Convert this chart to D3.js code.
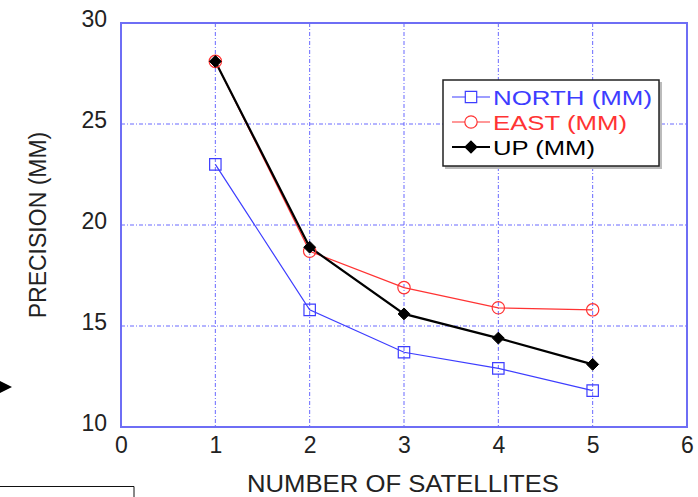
<!DOCTYPE html>
<html>
<head>
<meta charset="utf-8">
<script src="https://cdn.jsdelivr.net/npm/d3@7"></script>
<style>
  html, body { margin: 0; padding: 0; background: #fff; }
  svg { display: block; font-family: "Liberation Sans", Arial, Helvetica, sans-serif; }
</style>
</head>
<body>
<svg id="chart" width="698" height="497"></svg>
<script>
// ---- data ----
const satellites = [1, 2, 3, 4, 5];
const northMM = [23.0, 15.8, 13.7, 12.9, 11.8];
const eastMM  = [28.1, 18.7, 16.9, 15.9, 15.8];
const upMM    = [28.1, 18.9, 15.6, 14.4, 13.1];
const xTicks = [0, 1, 2, 3, 4, 5, 6];
const yTicks = [10, 15, 20, 25, 30];
const seriesNames = ["NORTH (MM)", "EAST (MM)", "UP (MM)"];

(function () {
const svg = d3.select("#chart");
const pL = 121, pR = 687, pT = 23, pB = 427;
const x = d3.scaleLinear().domain([0, 6]).range([pL, pR]);
const y = d3.scaleLinear().domain([10, 30]).range([pB, pT]);

const gridColor = "#5050ff";
const frameColor = "#6e6ef5";

// grid lines
const grid = svg.append("g");
grid.selectAll("line.v").data(xTicks.filter(d => d > 0 && d < 6)).enter().append("line")
  .attr("x1", d => x(d)).attr("x2", d => x(d)).attr("y1", pT).attr("y2", pB)
  .attr("stroke", gridColor).attr("stroke-width", 1).attr("stroke-dasharray", "4,2,1,2").attr("opacity", 0.85);
grid.selectAll("line.h").data(yTicks.filter(d => d > 10 && d < 30)).enter().append("line")
  .attr("y1", d => y(d)).attr("y2", d => y(d)).attr("x1", pL).attr("x2", pR)
  .attr("stroke", gridColor).attr("stroke-width", 1).attr("stroke-dasharray", "4,2,1,2").attr("opacity", 0.85);

// frame
svg.append("rect").attr("x", pL).attr("y", pT).attr("width", pR - pL).attr("height", pB - pT)
  .attr("fill", "none").attr("stroke", frameColor).attr("stroke-width", 2);

// axes labels
const xAxis = d3.axisBottom(x).tickValues(xTicks).tickSize(0).tickPadding(10).tickFormat(d3.format("d"));
const gx = svg.append("g").attr("transform", `translate(0,${pB})`).call(xAxis);
gx.select(".domain").remove();
gx.selectAll("text").attr("font-size", 23).attr("fill", "#222").attr("font-family", "Liberation Sans, Arial, sans-serif");

const yAxis = d3.axisLeft(y).tickValues(yTicks).tickSize(0).tickPadding(14).tickFormat(d3.format("d"));
const gy = svg.append("g").attr("transform", `translate(${pL},0)`).call(yAxis);
gy.select(".domain").remove();
gy.selectAll("text").attr("font-size", 23).attr("fill", "#222").attr("dy", "0.14em").attr("font-family", "Liberation Sans, Arial, sans-serif");

// titles
svg.append("text").attr("x", 403).attr("y", 492).attr("text-anchor", "middle")
  .attr("font-size", 24).attr("textLength", 312).attr("lengthAdjust", "spacingAndGlyphs")
  .attr("fill", "#222").text("NUMBER OF SATELLITES");
svg.append("text").attr("transform", "translate(46,225) rotate(-90)").attr("text-anchor", "middle")
  .attr("font-size", 23).attr("fill", "#222").text("PRECISION (MM)");

// series
const line = d3.line().x((d, i) => x(satellites[i])).y(d => y(d));
const northColor = "#3d3dff", eastColor = "#ff3333", upColor = "#000";

svg.append("path").datum(northMM).attr("d", line).attr("fill", "none").attr("stroke", northColor).attr("stroke-width", 1.2);
svg.append("path").datum(eastMM).attr("d", line).attr("fill", "none").attr("stroke", eastColor).attr("stroke-width", 1.2);
svg.append("path").datum(upMM).attr("d", line).attr("fill", "none").attr("stroke", upColor).attr("stroke-width", 2.2);

const sq = d3.symbol().type(d3.symbolSquare).size(130);
const ci = d3.symbol().type(d3.symbolCircle).size(120);
const di = d3.symbol().type(d3.symbolDiamond2).size(90);

svg.append("g").selectAll("path").data(northMM).enter().append("path")
  .attr("d", sq).attr("transform", (d, i) => `translate(${x(satellites[i])},${y(d)})`)
  .attr("fill", "none").attr("stroke", northColor).attr("stroke-width", 1.2);
svg.append("g").selectAll("path").data(eastMM).enter().append("path")
  .attr("d", ci).attr("transform", (d, i) => `translate(${x(satellites[i])},${y(d)})`)
  .attr("fill", "none").attr("stroke", eastColor).attr("stroke-width", 1.2);
svg.append("g").selectAll("path").data(upMM).enter().append("path")
  .attr("d", di).attr("transform", (d, i) => `translate(${x(satellites[i])},${y(d)})`)
  .attr("fill", "#000").attr("stroke", "#000").attr("stroke-width", 1);

// legend
const lg = svg.append("g");
lg.append("rect").attr("x", 445).attr("y", 82).attr("width", 217).attr("height", 87).attr("fill", "#bbb");
lg.append("rect").attr("x", 443).attr("y", 80).attr("width", 216).attr("height", 86)
  .attr("fill", "#fff").attr("stroke", "#222").attr("stroke-width", 1.5);
const legWidths = [159, 134, 102];
const legItems = [
  { name: seriesNames[0], color: northColor, sym: sq, fill: "none", w: 1.2 },
  { name: seriesNames[1], color: eastColor, sym: ci, fill: "none", w: 1.2 },
  { name: seriesNames[2], color: upColor, sym: di, fill: "#000", w: 2.2 }
];
legItems.forEach((it, i) => {
  const cy = 97 + i * 25;
  lg.append("line").attr("x1", 452).attr("x2", 490).attr("y1", cy).attr("y2", cy)
    .attr("stroke", it.color).attr("stroke-width", it.w);
  lg.append("path").attr("d", it.sym).attr("transform", `translate(471,${cy})`)
    .attr("fill", it.fill === "none" ? "#fff" : it.fill).attr("stroke", it.color).attr("stroke-width", 1.2);
  lg.append("text").attr("x", 493).attr("y", cy + 8).attr("font-size", 21)
    .attr("textLength", legWidths[i]).attr("lengthAdjust", "spacingAndGlyphs")
    .attr("fill", it.color).text(it.name);
});

// stray marks from the source picture
svg.append("path").attr("d", d3.line()([[0, 381], [12, 387], [0, 393]])).attr("fill", "#000");
svg.append("path").attr("d", d3.line()([[0, 486.5], [134, 486.5], [134, 497]]))
  .attr("fill", "none").attr("stroke", "#111").attr("stroke-width", 1);
})();
</script>
</body>
</html>
